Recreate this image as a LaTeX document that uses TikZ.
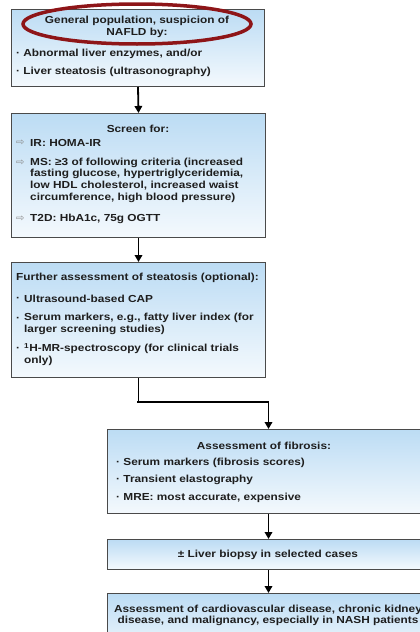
\documentclass[tikz,border=0pt]{standalone}
\usepackage{fontspec}
\setmainfont[FakeStretch=1.16]{Liberation Sans}
\newfontfamily\symfont{DejaVu Sans}
\usetikzlibrary{arrows.meta,shapes.geometric}
\definecolor{boxtop}{HTML}{BCDCF4}
\definecolor{boxbot}{HTML}{F4F9FD}
\definecolor{edge}{HTML}{4A4A4A}
\definecolor{ink}{HTML}{1E1E1E}
\definecolor{ring}{HTML}{8E1518}
\definecolor{symgray}{HTML}{8A8A8A}
\tikzset{
 stagebox/.style={draw=edge, line width=1pt, top color=boxtop, bottom color=boxbot, rectangle, inner sep=0pt, anchor=north west},
 txt/.style={font=\fontsize{10.2}{11.7}\selectfont\bfseries, text=ink, inner sep=0pt},
 lt/.style={txt, anchor=west},
 ct/.style={txt, align=center},
 arw/.style={font=\symfont\fontsize{10}{10}\selectfont, text=symgray, inner sep=0pt, anchor=west},
 flow/.style={line width=1.8pt, -{Triangle[width=7.5pt,length=7pt]}},
}
\begin{document}
\begin{tikzpicture}[x=1pt,y=-1pt]
\useasboundingbox (0,0) rectangle (420,632);
\begin{scope}
\clip (0,0) rectangle (420,632);
% boxes
\node[stagebox, minimum width=253pt, minimum height=77pt] (b1) at (11,9) {};
\node[stagebox, minimum width=254pt, minimum height=124pt] (b2) at (11,113) {};
\node[stagebox, minimum width=254pt, minimum height=115pt] (b3) at (11,262) {};
\node[stagebox, minimum width=322pt, minimum height=84pt] (b4) at (107,429) {};
\node[stagebox, minimum width=322pt, minimum height=30pt] (b5) at (107,539) {};
\node[stagebox, minimum width=322pt, minimum height=62pt] (b6) at (107,593) {};
% connectors
\draw[flow] (b1.south) -- (b2.north);
\draw[flow] (b2.south) -- (b3.north);
\coordinate (bend) at (137,402);
\draw[flow] (b3.south) |- (bend) -| (b4.north);
\draw[flow] (b4.south) -- (b5.north);
\draw[flow] (b5.south) -- (b6.north);
% box 1
\node[ct] (t1h) at (137,27) {General population, suspicion of\\NAFLD by:};
\node[lt] (t1a) at (16,54) {· Abnormal liver enzymes, and/or};
\node[lt] (t1b) at (16,72) {· Liver steatosis (ultrasonography)};
\node[draw=ring, line width=3.5pt, ellipse, inner sep=0pt, minimum width=228pt, minimum height=40pt] (oval) at (137,24) {};
% box 2
\node[ct] (t2h) at (138,129) {Screen for:};
\node[arw] (s2a) at (16,143) {⇨};
\node[lt] (t2a) at (30,143) {IR: HOMA-IR};
\node[arw] (s2b) at (16,163) {⇨};
\node[txt, anchor=north west, align=left] (t2b) at (30,157.5) {MS: ≥3 of following criteria (increased\\fasting glucose, hypertriglyceridemia,\\low HDL cholesterol, increased waist\\circumference, high blood pressure)};
\node[arw] (s2c) at (16,219) {⇨};
\node[lt] (t2c) at (30,219) {T2D: HbA1c, 75g OGTT};
% box 3
\node[lt] (t3h) at (16,278) {Further assessment of steatosis (optional):};
\node[lt] (d3a) at (16,299) {·};
\node[lt] (t3a) at (24,299) {Ultrasound-based CAP};
\node[lt] (d3b) at (16,319) {·};
\node[txt, anchor=north west, align=left] (t3b) at (24,313) {Serum markers, e.g., fatty liver index (for\\larger screening studies)};
\node[lt] (d3c) at (16,349) {·};
\node[txt, anchor=north west, align=left] (t3c) at (24,343) {\textsuperscript{1}H-MR-spectroscopy (for clinical trials\\only)};
% box 4
\node[ct] (t4h) at (264,446) {Assessment of fibrosis:};
\node[lt] (t4a) at (116,463) {· Serum markers (fibrosis scores)};
\node[lt] (t4b) at (116,480) {· Transient elastography};
\node[lt] (t4c) at (116,498) {· MRE: most accurate, expensive};
% box 5
\node[ct] (t5) at (268,555) {± Liver biopsy in selected cases};
% box 6
\node[ct] (t6) at (268,615.5) {Assessment of cardiovascular disease, chronic kidney\\disease, and malignancy, especially in NASH patients};
\end{scope}
\end{tikzpicture}
\end{document}
